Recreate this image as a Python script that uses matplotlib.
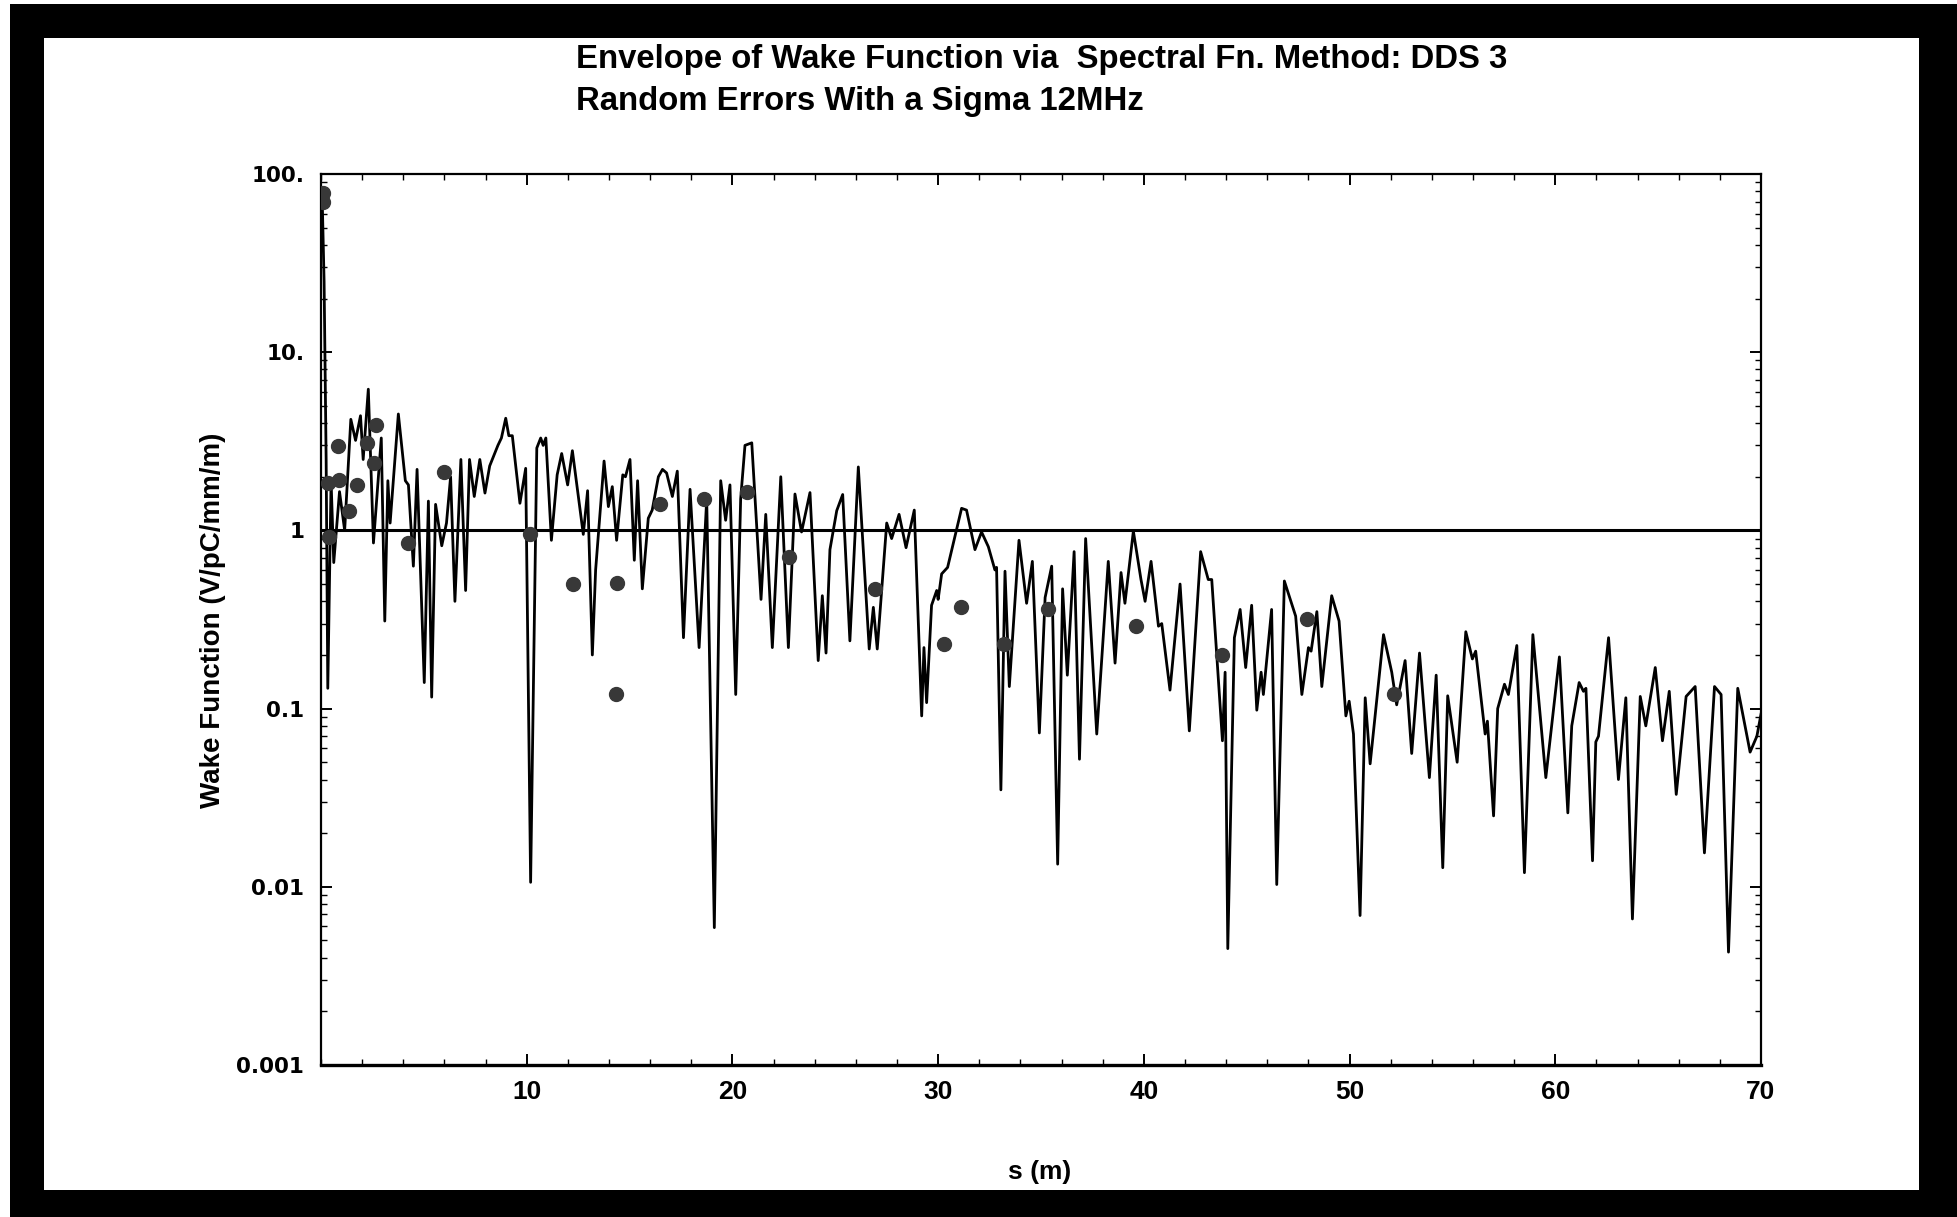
import matplotlib
matplotlib.use('Agg')
import matplotlib.pyplot as plt
from matplotlib.patches import Rectangle
from matplotlib.ticker import FixedLocator, FixedFormatter, LogLocator, NullFormatter, MultipleLocator

title_lines = ["Envelope of Wake Function via  Spectral Fn. Method: DDS 3",
               "Random Errors With a Sigma 12MHz"]
x_label = "s (m)"
y_label = "Wake Function (V/pC/mm/m)"

# envelope curve (s in m, wake in V/pC/mm/m)
s_curve = [0.05, 0.15, 0.25, 0.33, 0.49, 0.62, 0.9, 1.15, 1.45, 1.68, 1.92, 2.05, 2.3, 2.55,
           2.93, 3.1, 3.25, 3.36, 3.76, 4.1, 4.25, 4.49, 4.67, 5.02, 5.22, 5.38, 5.57, 5.87,
           6.1, 6.3, 6.51, 6.8, 7.03, 7.22, 7.45, 7.72, 7.97, 8.2, 8.6, 8.77, 8.98, 9.13, 9.3,
           9.67, 9.95, 10.19, 10.49, 10.68, 10.8, 10.93, 11.2, 11.48, 11.7, 11.99, 12.22, 12.75,
           12.96, 13.19, 13.35, 13.76, 13.97, 14.16, 14.37, 14.67, 14.8, 15.02, 15.23, 15.39,
           15.62, 15.91, 16.1, 16.4, 16.6, 16.8, 17.08, 17.32, 17.62, 17.94, 18.38, 18.75,
           19.12, 19.43, 19.67, 19.88, 20.16, 20.4, 20.61, 20.94, 21.39, 21.62, 21.94, 22.35,
           22.72, 23.04, 23.36, 23.77, 24.17, 24.37, 24.55, 24.74, 25.07, 25.36, 25.71, 26.12,
           26.65, 26.85, 27.04, 27.5, 27.74, 28.1, 28.44, 28.84, 29.2, 29.31, 29.44, 29.68,
           29.93, 30.0, 30.17, 30.46, 31.14, 31.38, 31.79, 32.11, 32.44, 32.76, 32.84, 33.05,
           33.25, 33.46, 33.93, 34.3, 34.58, 34.92, 35.2, 35.52, 35.81, 36.05, 36.28, 36.61,
           36.87, 37.17, 37.71, 38.27, 38.6, 38.89, 39.08, 39.49, 39.86, 40.06, 40.35, 40.71,
           40.87, 41.27, 41.76, 42.21, 42.76, 43.13, 43.3, 43.82, 43.95, 44.08, 44.4, 44.68,
           44.95, 45.24, 45.49, 45.7, 45.81, 46.21, 46.46, 46.83, 47.38, 47.68, 48.0, 48.13,
           48.41, 48.65, 49.13, 49.49, 49.82, 49.98, 50.19, 50.51, 50.76, 51.0, 51.65, 52.05,
           52.29, 52.7, 53.02, 53.4, 53.88, 54.21, 54.53, 54.77, 55.23, 55.65, 55.97, 56.13,
           56.59, 56.7, 57.0, 57.2, 57.53, 57.72, 58.13, 58.5, 58.91, 59.54, 60.2, 60.61, 60.8,
           61.16, 61.37, 61.49, 61.81, 61.97, 62.1, 62.59, 63.07, 63.43, 63.75, 64.13, 64.4,
           64.86, 65.21, 65.54, 65.88, 66.36, 66.8, 67.25, 67.74, 68.06, 68.42, 68.87, 69.47,
           69.8, 70.0]
w_curve = [80, 25, 2.5, 0.13, 1.9, 0.66, 1.65, 1.0, 4.2, 3.2, 4.4, 2.5, 6.2, 0.85,
           3.3, 0.31, 1.9, 1.1, 4.5, 1.9, 1.8, 0.63, 2.2, 0.14, 1.46, 0.116, 1.4, 0.82,
           1.1, 2.0, 0.4, 2.5, 0.46, 2.5, 1.55, 2.5, 1.62, 2.3, 3.0, 3.3, 4.26, 3.4, 3.4,
           1.42, 2.23, 0.0106, 2.9, 3.3, 3.0, 3.3, 0.88, 2.05, 2.7, 1.8, 2.8, 0.95,
           1.67, 0.20, 0.6, 2.45, 1.36, 1.76, 0.88, 2.05, 2.0, 2.5, 0.68, 1.9,
           0.47, 1.17, 1.3, 2.0, 2.2, 2.1, 1.55, 2.15, 0.25, 1.7, 0.22, 1.5,
           0.0059, 1.9, 1.14, 1.8, 0.12, 1.5, 3.0, 3.1, 0.41, 1.23, 0.22, 2.0,
           0.22, 1.6, 0.98, 1.63, 0.186, 0.43, 0.205, 0.78, 1.29, 1.59, 0.24, 2.27,
           0.216, 0.37, 0.216, 1.1, 0.9, 1.23, 0.8, 1.3, 0.091, 0.22, 0.108, 0.38,
           0.46, 0.41, 0.57, 0.62, 1.33, 1.3, 0.78, 0.98, 0.81, 0.6, 0.62, 0.035,
           0.59, 0.133, 0.88, 0.39, 0.67, 0.073, 0.42, 0.63, 0.0134, 0.47, 0.154, 0.76,
           0.052, 0.9, 0.072, 0.67, 0.18, 0.58, 0.39, 0.99, 0.53, 0.40, 0.67, 0.29,
           0.30, 0.127, 0.50, 0.075, 0.76, 0.53, 0.53, 0.066, 0.16, 0.0045, 0.25, 0.36,
           0.17, 0.38, 0.098, 0.16, 0.12, 0.36, 0.0103, 0.52, 0.33, 0.12, 0.22, 0.21,
           0.35, 0.133, 0.43, 0.31, 0.091, 0.11, 0.072, 0.0069, 0.115, 0.049, 0.26, 0.16,
           0.105, 0.186, 0.056, 0.205, 0.041, 0.154, 0.0128, 0.118, 0.05, 0.27, 0.19, 0.21,
           0.072, 0.085, 0.025, 0.1, 0.137, 0.12, 0.226, 0.012, 0.26, 0.041, 0.195, 0.026, 0.08,
           0.14, 0.125, 0.13, 0.014, 0.065, 0.07, 0.25, 0.04, 0.115, 0.0066, 0.117, 0.08,
           0.17, 0.066, 0.125, 0.033, 0.117, 0.133, 0.0155, 0.133, 0.12, 0.0043, 0.13, 0.057,
           0.07, 0.093]

# individual points (dots)
s_dots = [0.08, 0.12, 0.36, 0.89, 0.84, 0.40, 1.38, 1.77, 2.22, 2.67, 2.59, 4.25, 5.98,
          10.16, 12.27, 14.37, 14.32, 16.5, 18.6, 20.7, 22.77, 26.92, 30.29, 31.12, 33.2,
          35.36, 39.6, 43.79, 47.95, 52.16]
w_dots = [78, 70, 1.84, 1.92, 2.98, 0.92, 1.29, 1.8, 3.08, 3.9, 2.38, 0.85, 2.13,
          0.96, 0.50, 0.51, 0.12, 1.41, 1.5, 1.64, 0.71, 0.47, 0.23, 0.37, 0.23,
          0.36, 0.29, 0.20, 0.32, 0.12]

reference_level = 1.0

xtick_vals = [10, 20, 30, 40, 50, 60, 70]
xtick_labels = ['10', '20', '30', '40', '50', '60', '70']
ytick_vals = [100, 10, 1, 0.1, 0.01, 0.001]
ytick_labels = ['100.', '10.', '1', '0.1', '0.01', '0.001']

NARROW = ['Liberation Sans Narrow', 'Liberation Sans', 'DejaVu Sans']
WIDE = ['DejaVu Sans']

W, H = 1958, 1217
fig = plt.figure(figsize=(W / 100, H / 100), dpi=100)
fig.patch.set_facecolor('white')

ax = fig.add_axes([321 / W, 1 - 1065 / H, (1761 - 321) / W, (1065 - 174) / H])
ax.set_yscale('log')
ax.set_xlim(0, 70)
ax.set_ylim(0.001, 100)

ax.plot(s_curve, w_curve, color='black', lw=2.0, solid_joinstyle='round', zorder=3)
ax.axhline(reference_level, color='black', lw=2.2, zorder=2)
ax.plot(s_dots, w_dots, linestyle='none', marker='o', markersize=10,
        markerfacecolor='#383838', markeredgecolor='#383838', zorder=4, clip_on=True)

for sp in ax.spines.values():
    sp.set_linewidth(1.6)
ax.spines['bottom'].set_linewidth(2.4)

ax.xaxis.set_major_locator(FixedLocator(xtick_vals))
ax.xaxis.set_major_formatter(FixedFormatter(xtick_labels))
ax.xaxis.set_minor_locator(MultipleLocator(2))
ax.yaxis.set_major_locator(FixedLocator(ytick_vals))
ax.yaxis.set_major_formatter(FixedFormatter(ytick_labels))
ax.yaxis.set_minor_locator(LogLocator(base=10, subs=range(2, 10), numticks=20))
ax.yaxis.set_minor_formatter(NullFormatter())

ax.tick_params(axis='both', which='major', direction='in', length=8, width=1.4,
               top=True, right=True)
ax.tick_params(axis='both', which='minor', direction='in', length=4.5, width=1.0,
               top=True, right=True)
ax.tick_params(axis='x', which='major', pad=11)
ax.tick_params(axis='y', which='major', pad=12)
for lab in ax.get_xticklabels():
    lab.set_fontfamily(NARROW)
    lab.set_fontweight('bold')
    lab.set_fontsize(19)
for lab in ax.get_yticklabels():
    lab.set_fontfamily(WIDE)
    lab.set_fontweight('bold')
    lab.set_fontsize(15.5)

fig.text(576 / W, 1 - 59.5 / H, title_lines[0], ha='left', va='center',
         fontsize=23.7, fontweight='bold', family=NARROW)
fig.text(576 / W, 1 - 101.5 / H, title_lines[1], ha='left', va='center',
         fontsize=23.7, fontweight='bold', family=NARROW)
fig.text(1040 / W, 1 - 1172 / H, x_label, ha='center', va='center',
         fontsize=19, fontweight='bold', family=NARROW)
fig.text(213 / W, 1 - 620 / H, y_label, ha='center', va='center', rotation=90,
         fontsize=20, fontweight='bold', family=NARROW)

# black frame around the page
for (x0, y0, x1, y1) in [(10, 4, W, 38), (10, 4, 44, H), (1919, 4, W, H), (10, 1190, W, H)]:
    fig.add_artist(Rectangle((x0 / W, 1 - y1 / H), (x1 - x0) / W, (y1 - y0) / H,
                             transform=fig.transFigure, facecolor='black',
                             edgecolor='none', zorder=10))

fig.savefig('out.png', dpi=100)
